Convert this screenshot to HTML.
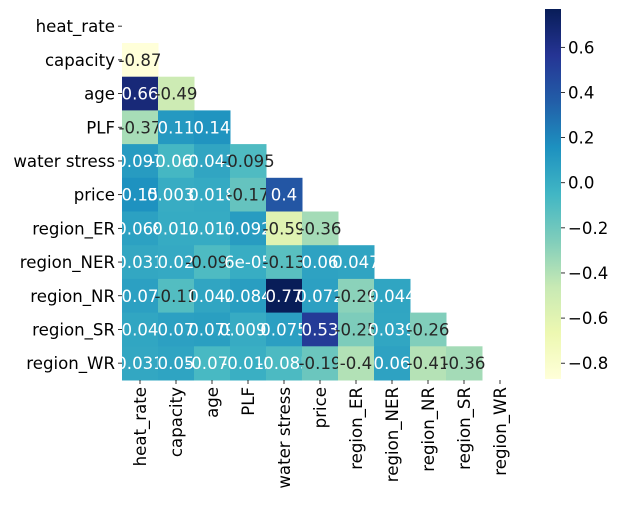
<!DOCTYPE html>
<html><head><meta charset="utf-8"><style>
body{margin:0;background:#fff}
svg{font-family:"DejaVu Sans","Liberation Sans",sans-serif}
</style></head><body>
<svg id="c" width="622" height="501"></svg>
<script>
const labels=["heat_rate","capacity","age","PLF","water stress","price","region_ER","region_NER","region_NR","region_SR","region_WR"];
const row1=[-0.87];
const row2=[0.66,-0.49];
const row3=[-0.37,0.11,0.14];
const row4=[0.097,-0.062,0.043,-0.095];
const row5=[0.15,0.0033,0.018,-0.17,0.4];
const row6=[0.068,0.012,0.013,0.092,-0.59,-0.36];
const row7=[0.031,0.02,-0.094,0.00006,-0.13,0.06,0.047];
const row8=[0.07,-0.11,0.042,0.084,0.77,0.072,-0.29,0.044];
const row9=[0.04,0.07,0.079,0.0091,0.075,0.53,-0.25,0.039,-0.26];
const row10=[0.031,0.05,-0.074,-0.012,-0.085,-0.19,-0.4,0.06,-0.41,-0.36];
const cbTicks=[0.6,0.4,0.2,0.0,-0.2,-0.4,-0.6,-0.8];
const vmin=-0.87,vmax=0.77;
const rows=[[],row1,row2,row3,row4,row5,row6,row7,row8,row9,row10];
const NS="http://www.w3.org/2000/svg",svg=document.getElementById('c');
const L=122,T=9.3,CW=36,RH=33.7,CBX=545,CBW=16,CBT=9,CBB=379,FS=16.6;
const xs=j=>L+j*CW, ys=i=>T+i*RH;
const stops=["#ffffd9","#edf8b1","#c7e9b4","#7fcdbb","#41b6c4","#1d91c0","#225ea8","#253494","#081d58"].map(h=>[1,3,5].map(k=>parseInt(h.substr(k,2),16)));
function cmap(v){let t=Math.max(0,Math.min(1,(v-vmin)/(vmax-vmin)))*(stops.length-1);let i=Math.min(Math.floor(t),stops.length-2),f=t-i;return stops[i].map((a,k)=>Math.round(a+(stops[i+1][k]-a)*f));}
function lum(c){const l=c.map(x=>{x/=255;return x<=0.03928?x/12.92:Math.pow((x+0.055)/1.055,2.4)});return 0.2126*l[0]+0.7152*l[1]+0.0722*l[2];}
function fmt(v){if(v!==0&&Math.abs(v)<1e-4){let s=v.toExponential(0);return s.replace(/e([+-])(\d)$/,'e$10$2');}return String(Number(v.toPrecision(2)));}
function el(t,a,p){const e=document.createElementNS(NS,t);for(const k in a)e.setAttribute(k,a[k]);(p||svg).appendChild(e);return e;}
rows.forEach((r,i)=>r.forEach((v,j)=>{const c=cmap(v);
const rc=el('rect',{x:xs(j),y:ys(i),width:CW+0.5,height:RH+0.5,fill:`rgb(${c})`});


const tx=el('text',{x:xs(j)+CW/2,y:ys(i)+RH/2+6,'text-anchor':'middle','font-size':FS,fill:lum(c)>0.408?'#262626':'#ffffff'});
tx.textContent=fmt(v);


}));
labels.forEach((lb,i)=>{
const y=ys(i)+RH/2;
el('line',{x1:L-4,x2:L,y1:y,y2:y,stroke:'#000','stroke-width':0.8});
const t=el('text',{x:L-7,y:y+6,'text-anchor':'end','font-size':FS,fill:'#000'});t.textContent=lb;


const x=xs(i)+CW/2,yb=T+11*RH;
el('line',{x1:x,x2:x,y1:yb,y2:yb+4,stroke:'#000','stroke-width':0.8});
const t2=el('text',{x:0,y:0,'text-anchor':'end','font-size':FS,fill:'#000',transform:`translate(${x+6},${yb+7}) rotate(-90)`});t2.textContent=lb;


});
const defs=el('defs',{});const g=el('linearGradient',{id:'cb',x1:0,y1:1,x2:0,y2:0},defs);
stops.forEach((s,k)=>el('stop',{offset:k/(stops.length-1),'stop-color':`rgb(${s})`},g));
const cb=el('rect',{x:CBX,y:CBT,width:CBW,height:CBB-CBT,fill:'url(#cb)'});


const cy=v=>CBB-(v-vmin)/(vmax-vmin)*(CBB-CBT);
cbTicks.forEach(v=>{const y=cy(v);
el('line',{x1:CBX+CBW,x2:CBX+CBW+4,y1:y,y2:y,stroke:'#000','stroke-width':0.8});
const t=el('text',{x:CBX+CBW+7,y:y+6,'font-size':FS,fill:'#000'});t.textContent=(v<0?'\u2212':'')+Math.abs(v).toFixed(1);


});
</script>
</body></html>
